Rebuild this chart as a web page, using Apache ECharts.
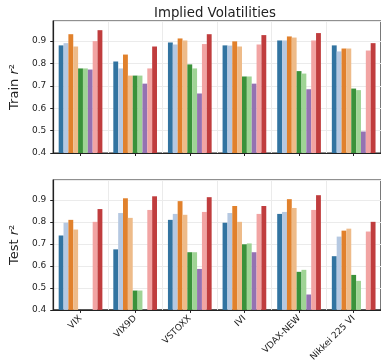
<!DOCTYPE html>
<html><head><meta charset="utf-8">
<script src="https://cdn.jsdelivr.net/npm/echarts@6/dist/echarts.min.js"></script>
<style>html,body{margin:0;padding:0;background:#fff}#c{width:381px;height:364px}</style>
</head><body><div id="c"></div>
<script>
const categories = ['VIX','VIX9D','VSTOXX','IVI','VDAX-NEW','Nikkei 225 VI'];
const colors = ['#3274a1','#b5c8e1','#e1812c','#eebb89','#3a923a','#9fd495','#9472b2','#f2a4a3','#c03d3e'];
// train r^2, one array per bar colour (order as drawn in each group)
const train0 = [0.881,0.809,0.894,0.881,0.903,0.881];
const train1 = [0.891,0.778,0.885,0.880,0.903,0.854];
const train2 = [0.931,0.840,0.912,0.899,0.921,0.867];
const train3 = [0.876,0.746,0.903,0.876,0.916,0.867];
const train4 = [0.778,0.746,0.796,0.742,0.766,0.688];
const train5 = [0.778,0.746,0.778,0.742,0.755,0.681];
const train6 = [0.773,0.710,0.666,0.710,0.685,0.496];
const train7 = [0.900,0.778,0.887,0.885,0.903,0.858];
const train8 = [0.949,0.876,0.931,0.927,0.936,0.891];
// test r^2 (null = below axis / not drawn)
const test0 = [0.738,0.675,0.809,0.796,0.836,0.644];
const test1 = [0.796,0.840,0.836,0.840,0.845,0.733];
const test2 = [0.809,0.907,0.894,0.872,0.903,0.760];
const test3 = [0.765,0.818,0.832,0.800,0.863,0.769];
const test4 = [null,0.488,0.662,0.698,0.573,0.559];
const test5 = [null,0.488,0.662,0.702,0.582,0.532];
const test6 = [null,null,0.586,0.662,0.470,null];
const test7 = [0.800,0.854,0.845,0.836,0.854,0.756];
const test8 = [0.858,0.916,0.912,0.872,0.921,0.800];
const yTicks = [0.4,0.5,0.6,0.7,0.8,0.9];

const train = [train0,train1,train2,train3,train4,train5,train6,train7,train8];
const test = [test0,test1,test2,test3,test4,test5,test6,test7,test8];
const FONT = 'DejaVu Sans';
const chart = echarts.init(document.getElementById('c'), null, {renderer:'canvas'});

function xAxis(idx, showLabels){
  return {type:'category', gridIndex:idx, data:categories,
    axisLine:{show:true, lineStyle:{color:'#222', width:1.2}},
    axisTick:{show:true, alignWithLabel:true, length:3, lineStyle:{color:'#222'}},
    splitLine:{show:true, lineStyle:{color:'#ebebeb', width:1}},
    axisLabel:{show:showLabels, rotate:45, fontFamily:FONT, fontSize:9, color:'#222', margin:7, interval:0}
  };
}
function yAxis(idx, name){
  return {type:'value', gridIndex:idx, min:0.4, max:0.99, interval:0.1,
    name:name, nameLocation:'middle', nameGap:30, nameRotate:90,
    nameTextStyle:{fontFamily:FONT, fontSize:13, color:'#222',
      rich:{n:{fontFamily:FONT,fontSize:13,color:'#222'}, i:{fontFamily:FONT,fontSize:13,fontStyle:'italic',color:'#222'}}},
    axisLine:{show:true, lineStyle:{color:'#222', width:1.2}},
    axisTick:{show:true, length:3, lineStyle:{color:'#222'}},
    splitLine:{show:true, lineStyle:{color:'#ebebeb', width:1}},
    axisLabel:{fontFamily:FONT, fontSize:9, color:'#222', margin:7, showMaxLabel:false,
      formatter:function(v){ return yTicks.some(t=>Math.abs(t-v)<1e-6) ? v.toFixed(1) : ''; }}
  };
}
const series = [];
train.forEach((d,i)=>series.push({type:'bar', xAxisIndex:0, yAxisIndex:0, data:d, barGap:'0%', barCategoryGap:'20%',
  itemStyle:{color:colors[i]}, silent:true, animation:false}));
test.forEach((d,i)=>series.push({type:'bar', xAxisIndex:1, yAxisIndex:1, data:d, barGap:'0%', barCategoryGap:'20%',
  itemStyle:{color:colors[i]}, silent:true, animation:false}));

chart.setOption({
  animation:false,
  title:{text:'Implied Volatilities', left:210, top:2, textAlign:'center',
    textStyle:{fontFamily:FONT, fontSize:13.3, fontWeight:'normal', color:'#222'}},
  grid:[
    {left:46, top:21, width:338, height:132, show:true, borderColor:'#222', borderWidth:1.2, backgroundColor:'transparent'},
    {left:46, top:180, width:338, height:132, show:true, borderColor:'#222', borderWidth:1.2, backgroundColor:'transparent'}
  ],
  xAxis:[xAxis(0,false), xAxis(1,true)],
  yAxis:[yAxis(0,'{n|Train }{i|r}{n|²}'), yAxis(1,'{n|Test }{i|r}{n|²}')],
  series:series
});
</script></body></html>
